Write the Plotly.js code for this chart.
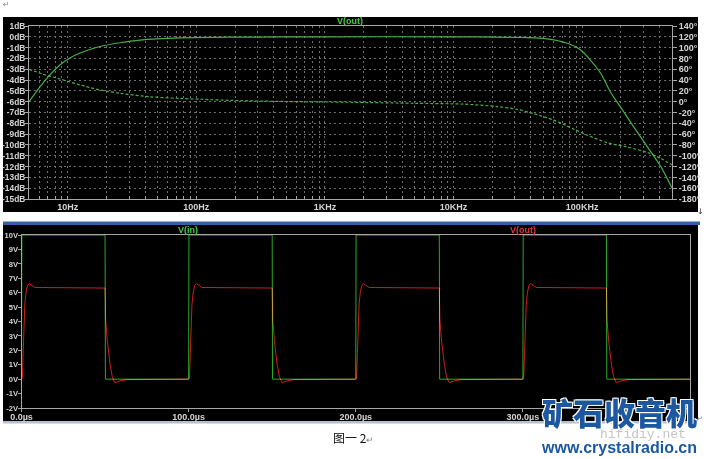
<!DOCTYPE html>
<html><head><meta charset="utf-8">
<script src="https://cdn.plot.ly/plotly-3.0.1.min.js"></script>
<style>
html,body{margin:0;padding:0;background:#fff;}
#chart{width:706px;height:459px;}
.scatterlayer .trace{mix-blend-mode:screen;}
</style></head><body><div id="chart"></div>
<script>
// ---- Bode plot (top): V(out) magnitude and phase ----
const magFreq = [5, 6.1, 7.3, 8.7, 10.4, 12.5, 17.8, 25.5, 36.5, 75, 200, 1000, 10000, 30000, 50000, 77000, 97000, 116000, 139000, 166000, 199000, 251000, 323000, 409000, 500000];
const magDb   = [-6.0, -4.6, -3.5, -2.6, -1.95, -1.5, -0.9, -0.55, -0.3, -0.1, -0.03, 0, 0, -0.05, -0.15, -0.6, -1.2, -2.15, -3.35, -5.1, -6.5, -8.3, -10.2, -12.0, -14.0];
const phaseFreq = [5, 6.4, 8.7, 12.5, 17.8, 25.5, 43.7, 75, 107, 183, 449, 1500, 4900, 11900, 21800, 31000, 41700, 60000, 85000, 110000, 157000, 225000, 323000, 409000, 500000];
const phaseDeg  = [60, 51, 42, 31, 21.6, 15.5, 9, 6, 4.5, 2.5, 0.5, -1, -3, -4.5, -9, -14, -22, -34, -50, -62, -76, -84, -94, -105, -117];

const decadeVals = [10, 100, 1000, 10000, 100000];
const decadeText = ["10Hz", "100Hz", "1KHz", "10KHz", "100KHz"];
const dbTickVals = [1, 0, -1, -2, -3, -4, -5, -6, -7, -8, -9, -10, -11, -12, -13, -14, -15];
const dbTickText = ["1dB", "0dB", "-1dB", "-2dB", "-3dB", "-4dB", "-5dB", "-6dB", "-7dB", "-8dB", "-9dB", "-10dB", "-11dB", "-12dB", "-13dB", "-14dB", "-15dB"];
const phTickVals = [140, 120, 100, 80, 60, 40, 20, 0, -20, -40, -60, -80, -100, -120, -140, -160, -180];
const phTickText = ["140°", "120°", "100°", "80°", "60°", "40°", "20°", "0°", "-20°", "-40°", "-60°", "-80°", "-100°", "-120°", "-140°", "-160°", "-180°"];

// ---- Transient plot (bottom): V(in), V(out) in microseconds / volts ----
const tIn = [0, 0.2, 50, 50.2, 100, 100.2, 150, 150.2, 200, 200.2, 250, 250.2, 300, 300.2, 350, 350.2, 400];
const vIn = [0, 10, 10, 0, 0, 10, 10, 0, 0, 10, 10, 0, 0, 10, 10, 0, 0];
const tOut = [
  0, 0.5, 1, 1.5, 2, 2.7, 3.6, 4.7, 6, 8,
  50, 50.15, 50.35, 51.3, 52.9, 54.3, 55.9, 58.9, 62.9,
  100, 100.5, 101, 101.5, 102, 102.7, 103.6, 104.7, 106, 108,
  150, 150.15, 150.35, 151.3, 152.9, 154.3, 155.9, 158.9, 162.9,
  200, 200.5, 201, 201.5, 202, 202.7, 203.6, 204.7, 206, 208,
  250, 250.15, 250.35, 251.3, 252.9, 254.3, 255.9, 258.9, 262.9,
  300, 300.5, 301, 301.5, 302, 302.7, 303.6, 304.7, 306, 308,
  350, 350.15, 350.35, 351.3, 352.9, 354.3, 355.9, 358.9, 362.9,
  400];
const vOut = [
  0, 0.05, 1.8, 4.0, 5.2, 6.0, 6.5, 6.62, 6.5, 6.36,
  6.32, 5.2, 4.1, 2.7, 1.1, 0.17, -0.24, -0.12, -0.03,
  0, 0.05, 1.8, 4.0, 5.2, 6.0, 6.5, 6.62, 6.5, 6.36,
  6.32, 5.2, 4.1, 2.7, 1.1, 0.17, -0.24, -0.12, -0.03,
  0, 0.05, 1.8, 4.0, 5.2, 6.0, 6.5, 6.62, 6.5, 6.36,
  6.32, 5.2, 4.1, 2.7, 1.1, 0.17, -0.24, -0.12, -0.03,
  0, 0.05, 1.8, 4.0, 5.2, 6.0, 6.5, 6.62, 6.5, 6.36,
  6.32, 5.2, 4.1, 2.7, 1.1, 0.17, -0.24, -0.12, -0.03,
  0];
const vTickVals = [10, 9, 8, 7, 6, 5, 4, 3, 2, 1, 0, -1, -2];
const vTickText = ["10V", "9V", "8V", "7V", "6V", "5V", "4V", "3V", "2V", "1V", "0V", "-1V", "-2V"];
const tTickVals = [0, 100, 200, 300];
const tTickText = ["0.0µs", "100.0µs", "200.0µs", "300.0µs"];

// log-axis grid positions (every digit in each decade), labels only at decades
const digits = [1, 2, 3, 4, 5, 6, 7, 8, 9];
const freqTickVals = [], freqTickText = [];
[1, 10, 100, 1000, 10000, 100000].forEach(d => digits.forEach(k => {
  const v = d * k;
  if (v >= 5 && v <= 500000) {
    freqTickVals.push(v);
    const i = decadeVals.indexOf(v);
    freqTickText.push(i >= 0 ? decadeText[i] : "");
  }
}));

const W = 706, H = 459;
const px = x => x / W, py = y => 1 - y / H;
const green = 'rgb(72,176,72)';
const lineCol = '#a6a6a6';
const gridCol = '#6e6e6e';
const FAM = 'Liberation Sans, Arial, sans-serif';
const tickFont = {family: FAM, size: 9, color: '#d4d4d4', weight: 'bold'};
const leftFont = {family: FAM, size: 8.4, color: '#d4d4d4', weight: 'bold'};
const voltFont = {family: FAM, size: 7.6, color: '#d4d4d4', weight: 'bold'};

const traces = [
  {x: magFreq, y: magDb, xaxis: 'x', yaxis: 'y', mode: 'lines', line: {color: green, width: 1.2, shape: 'spline', smoothing: 0.8}},
  {x: phaseFreq, y: phaseDeg, xaxis: 'x', yaxis: 'y2', mode: 'lines', line: {color: green, width: 1.2, dash: '3px,2px', shape: 'spline', smoothing: 0.8}},
  {x: tIn, y: vIn, xaxis: 'x2', yaxis: 'y3', mode: 'lines', line: {color: 'rgb(40,170,40)', width: 1}},
  {x: tOut, y: vOut, xaxis: 'x2', yaxis: 'y3', mode: 'lines', line: {color: 'rgb(205,30,30)', width: 1}}
];

const layout = {
  width: W, height: H, margin: {l: 0, r: 0, t: 0, b: 0},
  paper_bgcolor: '#ffffff', plot_bgcolor: '#000000', showlegend: false,
  xaxis: {type: 'log', domain: [px(29), px(672)], range: [Math.log10(5), Math.log10(500000)],
    tickmode: 'array', tickvals: freqTickVals, ticktext: freqTickText,
    showgrid: true, gridcolor: gridCol, griddash: '2px,3px', gridwidth: 1,
    showline: true, linecolor: lineCol, mirror: true, ticks: 'inside', ticklen: 3, tickcolor: lineCol,
    tickfont: tickFont, ticklabelstandoff: -1, zeroline: false, anchor: 'y', fixedrange: true},
  yaxis: {domain: [py(199), py(26)], range: [-15, 1], tickmode: 'array', tickvals: dbTickVals, ticktext: dbTickText,
    showgrid: true, gridcolor: gridCol, griddash: '2px,3px', gridwidth: 1,
    showline: true, linecolor: lineCol, ticks: 'outside', ticklen: 3, tickcolor: lineCol,
    tickfont: leftFont, ticklabelstandoff: -2, zeroline: false, anchor: 'x', fixedrange: true},
  yaxis2: {overlaying: 'y', side: 'right', range: [-180, 140], tickmode: 'array', tickvals: phTickVals, ticktext: phTickText,
    showgrid: false, showline: true, linecolor: lineCol, ticks: 'outside', ticklen: 4, tickcolor: lineCol,
    tickfont: tickFont, zeroline: false, anchor: 'x', fixedrange: true},
  xaxis2: {domain: [px(21.5), px(690)], range: [0, 400], tickmode: 'array', tickvals: tTickVals, ticktext: tTickText,
    showgrid: false, showline: true, mirror: true, linecolor: lineCol, ticks: 'outside', ticklen: 3, tickcolor: lineCol,
    tickfont: tickFont, ticklabelstandoff: -3, zeroline: false, anchor: 'y3', fixedrange: true},
  yaxis3: {domain: [py(408), py(235)], range: [-2, 10], tickmode: 'array', tickvals: vTickVals, ticktext: vTickText,
    showgrid: false, showline: true, mirror: true, linecolor: lineCol, ticks: 'outside', ticklen: 3, tickcolor: lineCol,
    tickfont: voltFont, ticklabelstandoff: -2, zeroline: false, anchor: 'x2', fixedrange: true},
  shapes: [
    {type: 'rect', xref: 'paper', yref: 'paper', x0: px(3), x1: px(698), y0: py(212), y1: py(17), fillcolor: '#000', line: {width: 0}, layer: 'below'},
    {type: 'rect', xref: 'paper', yref: 'paper', x0: px(3), x1: px(700), y0: py(225), y1: py(221.5), fillcolor: 'rgb(52,96,168)', line: {width: 0}, layer: 'below'},
    {type: 'rect', xref: 'paper', yref: 'paper', x0: px(3), x1: px(698), y0: py(421), y1: py(225), fillcolor: '#000', line: {width: 0}, layer: 'below'},
    {type: 'rect', xref: 'paper', yref: 'paper', x0: px(3), x1: px(698), y0: py(423.5), y1: py(421), fillcolor: '#b6c0d0', line: {width: 0}, layer: 'below'}
  ],
  annotations: [
    {text: 'V(out)', xref: 'paper', yref: 'paper', x: px(350), y: py(21), xanchor: 'center', yanchor: 'middle', showarrow: false,
      font: {family: FAM, size: 9, color: '#46cc46', weight: 'bold'}},
    {text: 'V(in)', xref: 'paper', yref: 'paper', x: px(188), y: py(229.5), xanchor: 'center', yanchor: 'middle', showarrow: false,
      font: {family: FAM, size: 9, color: '#46cc46', weight: 'bold'}},
    {text: 'V(out)', xref: 'paper', yref: 'paper', x: px(523), y: py(229.5), xanchor: 'center', yanchor: 'middle', showarrow: false,
      font: {family: FAM, size: 9, color: '#e03434', weight: 'bold'}},
    {text: '↵', xref: 'paper', yref: 'paper', x: px(1), y: py(4), xanchor: 'left', yanchor: 'middle', showarrow: false,
      font: {family: 'DejaVu Sans', size: 8, color: '#888'}},
    {text: '↓', xref: 'paper', yref: 'paper', x: px(706), y: py(211), xanchor: 'right', yanchor: 'middle', showarrow: false,
      font: {family: 'DejaVu Sans', size: 8, color: '#333'}},
    {text: '↵', xref: 'paper', yref: 'paper', x: px(705), y: py(419), xanchor: 'right', yanchor: 'middle', showarrow: false,
      font: {family: 'DejaVu Sans', size: 7, color: '#888'}},
    {text: '图一 2<span style="font-size:9px;color:#888">↵</span>', xref: 'paper', yref: 'paper', x: px(353), y: py(437), xanchor: 'center', yanchor: 'middle', showarrow: false,
      font: {family: 'Noto Sans CJK SC', size: 12, color: '#111'}},
    {text: 'hifidiy.net', xref: 'paper', yref: 'paper', x: px(643), y: py(434), xanchor: 'center', yanchor: 'middle', showarrow: false,
      font: {family: 'Liberation Mono, DejaVu Sans Mono, monospace', size: 13, color: '#c4c4c4'}},
    {text: '矿石收音机', xref: 'paper', yref: 'paper', x: px(619), y: py(411), xanchor: 'center', yanchor: 'middle', showarrow: false,
      font: {family: 'Noto Sans CJK SC', size: 31, color: 'rgb(28,88,160)', weight: 900,
        shadow: '1px 1px 0 #fff, -1px -1px 0 #fff, 1px -1px 0 #fff, -1px 1px 0 #fff'}},
    {text: 'www.crystalradio.cn', xref: 'paper', yref: 'paper', x: px(619), y: py(447), xanchor: 'center', yanchor: 'middle', showarrow: false,
      font: {family: FAM, size: 16, color: 'rgb(28,88,160)', weight: 'bold'}}
  ]
};

Plotly.newPlot('chart', traces, layout, {staticPlot: true, displayModeBar: false});
</script></body></html>
